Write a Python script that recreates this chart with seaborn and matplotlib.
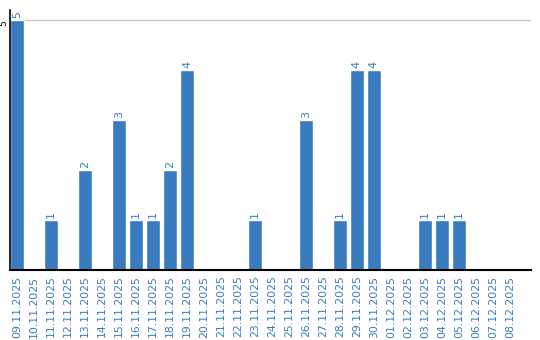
import matplotlib
matplotlib.use("Agg")
import matplotlib.pyplot as plt
import seaborn as sns
import pandas as pd

dates = ["09.11.2025", "10.11.2025", "11.11.2025", "12.11.2025", "13.11.2025",
         "14.11.2025", "15.11.2025", "16.11.2025", "17.11.2025", "18.11.2025",
         "19.11.2025", "20.11.2025", "21.11.2025", "22.11.2025", "23.11.2025",
         "24.11.2025", "25.11.2025", "26.11.2025", "27.11.2025", "28.11.2025",
         "29.11.2025", "30.11.2025", "01.12.2025", "02.12.2025", "03.12.2025",
         "04.12.2025", "05.12.2025", "06.12.2025", "07.12.2025", "08.12.2025"]
counts = [5, 0, 1, 0, 2, 0, 3, 1, 1, 2, 4, 0, 0, 0, 1, 0, 0, 3, 0, 1, 4, 4,
          0, 0, 1, 1, 1, 0, 0, 0]
yticks = [5]

df = pd.DataFrame({"date": dates, "count": counts})
color = "#3a7bc0"

sns.set_style("white")
fig = plt.figure(figsize=(5.4, 3.4), dpi=100)
ax = fig.add_axes([10 / 540, 70 / 340, 521 / 540, 260 / 340])
sns.barplot(data=df, x="date", y="count", color=color, saturation=1,
            width=0.82, ax=ax)
ax.set_xlim(-0.41, 30.24)
ax.set_ylim(0, 5.2)
ax.set_yticks(yticks)
ax.set_yticklabels([str(v) for v in yticks], rotation=90, va="top",
                   fontsize=6.5, color="black")
ax.tick_params(axis="y", length=0, pad=1)
ax.tick_params(axis="x", length=0, pad=4, labelrotation=90, labelsize=7.8,
               labelcolor=color)
ax.yaxis.grid(True, color="#c8c8c8", linewidth=1)
ax.set_axisbelow(True)
ax.set_xlabel("")
ax.set_ylabel("")
for s in ["top", "right"]:
    ax.spines[s].set_visible(False)
ax.spines["left"].set_color("black")
ax.spines["bottom"].set_color("black")
ax.spines["left"].set_linewidth(1.2)
ax.spines["bottom"].set_linewidth(1.5)

for i, v in enumerate(counts):
    if v > 0:
        ax.text(i, v + 0.04, str(v), rotation=90, ha="center", va="bottom",
                fontsize=8, color=color)

fig.savefig("out.png", dpi=100)
